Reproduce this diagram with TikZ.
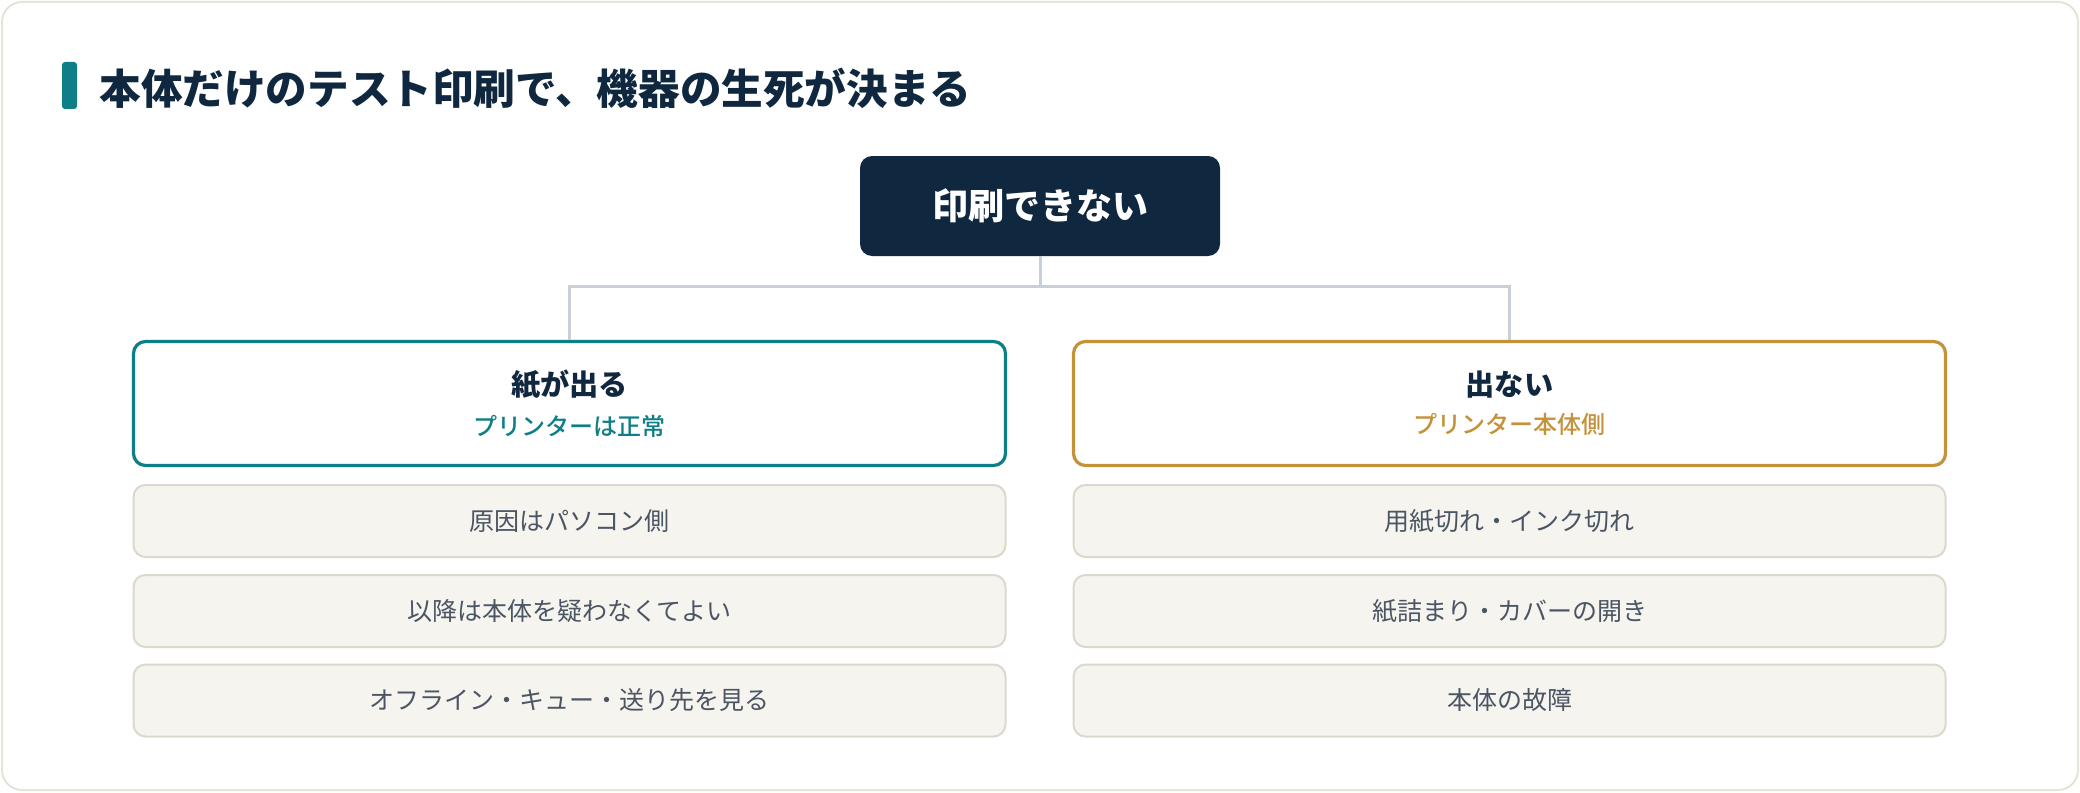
\documentclass[tikz,border=0pt]{standalone}
\usepackage{fontspec}
\setmainfont{Noto Sans CJK JP}
\newfontfamily\jpmedium{Noto Sans CJK JP Medium}
\usepackage{tikz}
\usetikzlibrary{positioning}

\definecolor{navy}{HTML}{10283F}
\definecolor{tealc}{HTML}{0E7F86}
\definecolor{goldc}{HTML}{C4923A}
\definecolor{linkc}{HTML}{C9CFD8}
\definecolor{itemfill}{HTML}{F5F4EF}
\definecolor{itemline}{HTML}{DCD9CC}
\definecolor{itemtext}{HTML}{4B5563}
\definecolor{cardline}{HTML}{E6E3D8}

\tikzset{
  rootbox/.style={fill=navy, rounded corners=6pt, minimum width=180pt, minimum height=50pt,
    text=white, font=\fontsize{18}{22}\selectfont\bfseries},
  branchbox/.style={draw, line width=1.6pt, fill=white, rounded corners=6pt,
    minimum width=436pt, minimum height=62pt, align=center, text=navy},
  itembox/.style={draw=itemline, line width=1pt, fill=itemfill, rounded corners=6pt,
    minimum width=436pt, minimum height=36pt, text=itemtext,
    font=\fontsize{12.5}{15}\selectfont},
  link/.style={draw=linkc, line width=1.5pt}
}

\begin{document}
\begin{tikzpicture}[x=0.5pt, y=-0.5pt]
        % Card and margins
        \useasboundingbox (0,0) rectangle (2080,792);
        \draw[cardline, line width=1pt, fill=white, rounded corners=10pt] (2,2) rectangle (2078,790);

        % Heading
        \fill[tealc, rounded corners=1.5pt] (62,62) rectangle (77,109);
        \node[anchor=west, text=navy, font=\fontsize{20.8}{25}\selectfont\bfseries, inner sep=0pt]
          (heading) at (99,88) {本体だけのテスト印刷で、機器の生死が決まる};

        % Root
        \node[rootbox] (print) at (1040,206) {印刷できない};

        % Two outcomes
        \node[branchbox, draw=tealc] (paper) at (569.5,403.5)
          {{\fontsize{14.6}{18}\selectfont\bfseries 紙が出る}\\[7pt]
           {\fontsize{12}{15}\selectfont\jpmedium\color{tealc} プリンターは正常}};
        \node[branchbox, draw=goldc] (nopaper) at (1509.5,403.5)
          {{\fontsize{14.6}{18}\selectfont\bfseries 出ない}\\[7pt]
           {\fontsize{12}{15}\selectfont\jpmedium\color{goldc} プリンター本体側}};

        % Connectors
        \coordinate (bus) at (1040,286);
        \draw[link] (print.south) -- (bus);
        \draw[link] (paper.north) |- (bus) -| (nopaper.north);

        % Paper comes out
        \node[itembox] (p1) at (569.5,521) {原因はパソコン側};
        \node[itembox] (p2) at (569.5,611) {以降は本体を疑わなくてよい};
        \node[itembox] (p3) at (569.5,700.5) {オフライン・キュー・送り先を見る};

        % Nothing comes out
        \node[itembox] (n1) at (1509.5,521) {用紙切れ・インク切れ};
        \node[itembox] (n2) at (1509.5,611) {紙詰まり・カバーの開き};
        \node[itembox] (n3) at (1509.5,700.5) {本体の故障};
\end{tikzpicture}
\end{document}
